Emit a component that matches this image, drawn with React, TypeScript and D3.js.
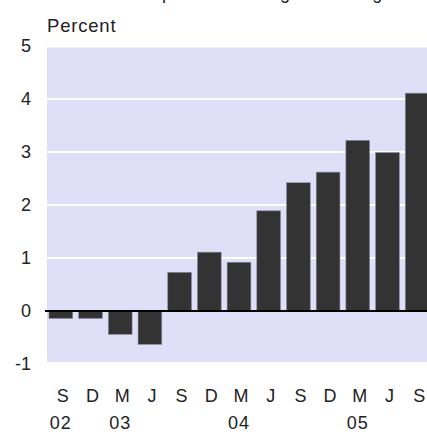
import React from "react";
import * as d3 from "d3";

const months = ["S", "D", "M", "J", "S", "D", "M", "J", "S", "D", "M", "J", "S"];
const years = ["02", "", "03", "", "", "", "04", "", "", "", "05", "", ""];
const values = [-0.14, -0.14, -0.44, -0.63, 0.73, 1.11, 0.92, 1.89, 2.42, 2.62, 3.22, 2.99, 4.11];
const yTicks = [-1, 0, 1, 2, 3, 4, 5];
const gridTicks = [1, 2, 3, 4];

const W = 427;
const H = 432;
const FONT = "'Liberation Sans', Arial, sans-serif";

export default function App() {
  const x = d3
    .scaleBand<number>()
    .domain(d3.range(values.length))
    .range([46, 432])
    .paddingInner(0.2)
    .paddingOuter(0.1);
  const y = d3.scaleLinear().domain([-1, 5]).range([364, 46]);

  return (
    <svg
      width={W}
      height={H}
      style={{ position: "absolute", left: 0, top: 0, background: "#fff" }}
      fontFamily={FONT}
    >
      <text x={142} y={-1} fontSize={18} fill="#222">
        Import shift: change in holdings
      </text>
      <text x={47} y={32} fontSize={18.5} fill="#222" letterSpacing={0.8}>
        Percent
      </text>
      <rect x={47} y={y(5) + 1.5} width={W - 47} height={y(-1) - y(5) - 3.5} fill="#dfdff7" />
      {gridTicks.map((t) => (
        <line key={t} x1={47} x2={W} y1={y(t)} y2={y(t)} stroke="#fff" strokeWidth={2} />
      ))}
      {values.map((v, i) => (
        <rect
          key={i}
          x={x(i)!}
          y={Math.min(y(v), y(0))}
          width={x.bandwidth()}
          height={Math.abs(y(v) - y(0))}
          fill="#333333"
          stroke="#8a8aa0"
          strokeWidth={0.6}
        />
      ))}
      <line x1={45} x2={W} y1={y(0)} y2={y(0)} stroke="#000" strokeWidth={2} />
      {yTicks.map((t) => (
        <text
          key={t}
          x={31}
          y={y(t)}
          dy="0.36em"
          textAnchor="end"
          fontSize={18}
          fill="#222"
        >
          {t}
        </text>
      ))}
      {months.map((m, i) => (
        <text
          key={i}
          x={x(i)! + x.bandwidth() / 2 + 2}
          y={402}
          textAnchor="middle"
          fontSize={18}
          fill="#222"
        >
          {m}
        </text>
      ))}
      {years.map((yr, i) =>
        yr ? (
          <text
            key={i}
            x={x(i)! + x.bandwidth() / 2}
            y={429}
            textAnchor="middle"
            fontSize={18}
            fill="#222"
            letterSpacing={1}
          >
            {yr}
          </text>
        ) : null
      )}
    </svg>
  );
}
